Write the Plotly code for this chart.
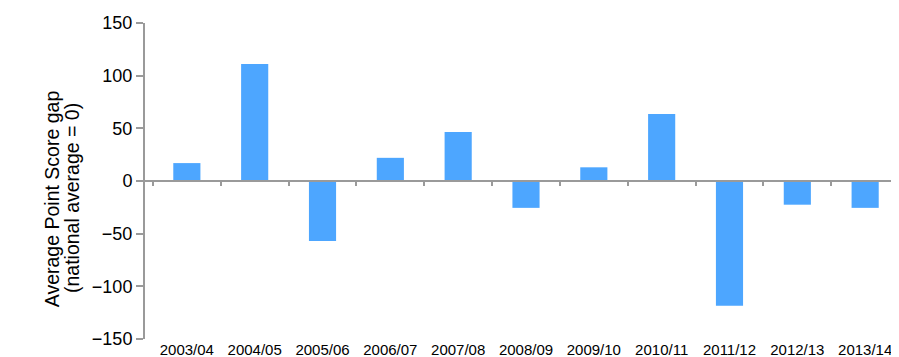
import plotly.graph_objects as go

years = ["2003/04", "2004/05", "2005/06", "2006/07", "2007/08", "2008/09",
         "2009/10", "2010/11", "2011/12", "2012/13", "2013/14"]
gap = [17, 111, -57, 22, 46.5, -25.5, 13, 63.5, -118.5, -22.5, -25.5]

fig = go.Figure()

fig.add_trace(go.Bar(
    x=years,
    y=gap,
    marker=dict(color="#4da6ff", line=dict(width=0)),
    width=0.4,
    showlegend=False
))

# invisible trace so the overlay axis on the zero line gets drawn
fig.add_trace(go.Scatter(
    x=years, y=[0] * len(years), xaxis="x2", mode="markers",
    marker=dict(opacity=0), showlegend=False, hoverinfo="skip"
))

axis_grey = "#9a9a9a"

fig.update_layout(
    width=899, height=357,
    paper_bgcolor="white",
    plot_bgcolor="white",
    margin=dict(l=137, r=0, t=15, b=26),
    font=dict(family="Liberation Sans, Arial, sans-serif", color="black"),
    xaxis=dict(
        showline=False, ticks="", showgrid=False, zeroline=False,
        tickfont=dict(size=15),
    ),
    # second x axis sitting on the zero line, carrying the boundary ticks
    xaxis2=dict(
        matches="x", overlaying="x", anchor="free", position=0.5,
        showline=True, linecolor=axis_grey, linewidth=2,
        ticks="outside", tickson="boundaries", ticklen=4, tickwidth=2,
        tickcolor=axis_grey, showticklabels=False, showgrid=False,
    ),
    yaxis=dict(
        range=[-150, 150], dtick=50,
        showline=True, linecolor=axis_grey, linewidth=2,
        ticks="outside", ticklen=7, tickwidth=2, tickcolor=axis_grey,
        showgrid=False, zeroline=False,
        tickfont=dict(size=18),
    ),
)

# y axis title as two lines, placed to the left of the tick labels
fig.add_annotation(text="Average Point Score gap", textangle=-90,
                   xref="paper", yref="paper", x=-0.138, y=0.445,
                   showarrow=False, font=dict(size=19.5))
fig.add_annotation(text="(national average = 0)", textangle=-90,
                   xref="paper", yref="paper", x=-0.112, y=0.445,
                   showarrow=False, font=dict(size=19.5))

fig.write_html("out.html")
